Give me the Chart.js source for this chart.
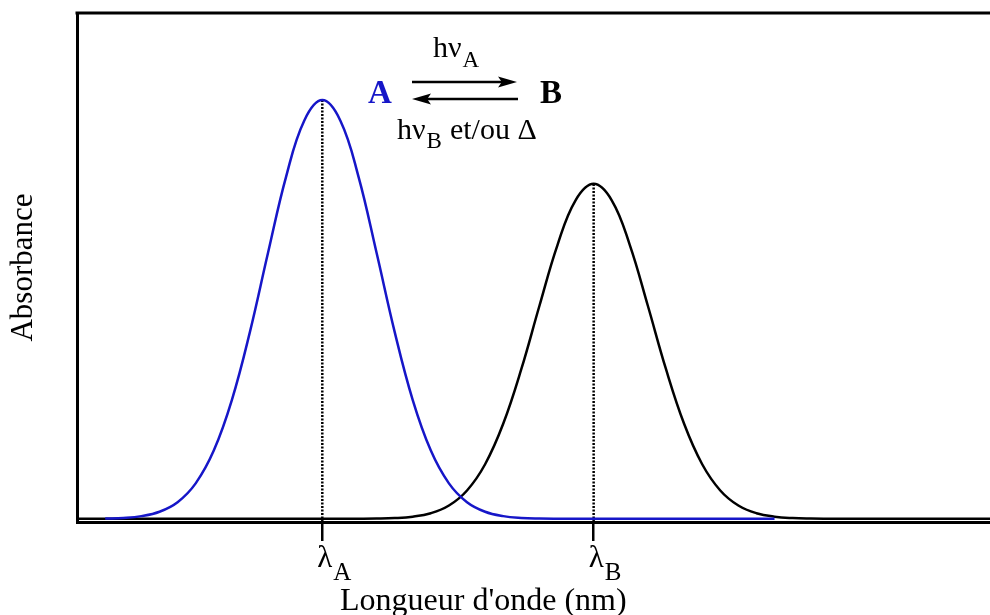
<!DOCTYPE html>
<html>
<head>
<meta charset="utf-8">
<script src="https://cdn.jsdelivr.net/npm/chart.js@4"></script>
<style>
  html, body { margin: 0; padding: 0; background: #fff; overflow: hidden; }
  #wrap { position: relative; width: 990px; height: 615px; }
</style>
</head>
<body>
<div id="wrap"><canvas id="spectre"></canvas></div>
<script>
// Spectres d'absorption A / B (photochromisme)
const wavelengths = [290, 300, 310, 320, 330, 340, 350, 360, 370, 380, 390, 400, 410, 420, 430,
  440, 450, 460, 470, 480, 490, 500, 510, 520, 530, 540, 550, 560, 570, 580,
  590, 600, 610, 620, 630, 640, 650, 660, 670, 680, 690, 700, 710, 720, 730, 740, 750, 760, 770, 780, 790, 800];

const absorbanceA = [null, null, 0.0007, 0.0022, 0.0065, 0.0169, 0.0397, 0.0847, 0.1630, 0.2837, 0.4466, 0.6354, 0.8174, 0.9509, 1.0,
  0.9509, 0.8174, 0.6354, 0.4466, 0.2837, 0.1630, 0.0847, 0.0397, 0.0169, 0.0065, 0.0022, 0.0007, 0.0002, 0.0001, 0,
  0, 0, 0, 0, 0, 0, 0, 0, 0, 0, null, null, null, null, null, null, null, null, null, null, null, null];

const absorbanceB = [0, 0, 0, 0, 0, 0, 0, 0, 0, 0, 0, 0, 0, 0, 0,
  0, 0.0002, 0.0006, 0.0018, 0.0052, 0.0135, 0.0318, 0.0678, 0.1304, 0.2270, 0.3573, 0.5083, 0.6539, 0.7607, 0.80,
  0.7607, 0.6539, 0.5083, 0.3573, 0.2270, 0.1304, 0.0678, 0.0318, 0.0135, 0.0052, 0.0018, 0.0006, 0.0002, 0, 0, 0, 0, 0, 0, 0, 0, 0];

const peakWavelengths = [430, 580];
const peakAbsorbance = [1.0, 0.80];
const peakNames = ['A', 'B'];

const X_MIN = 294.4, X_MAX = 799.1;
const Y_MIN = -0.0075, Y_MAX = 1.208;

const SERIF = '"Liberation Serif", "Times New Roman", serif';
const BLUE = '#1616c8';

const toPoints = (ys) => wavelengths.map((w, i) => ({ x: w, y: ys[i] }));

// texte avec indice (hν_A, λ_B ...)
const drawSub = (ctx, main, sub, x, y, size, subSize, subDrop) => {
  ctx.font = `${size}px ${SERIF}`;
  ctx.fillText(main, x, y);
  const w = ctx.measureText(main).width;
  ctx.font = `${subSize}px ${SERIF}`;
  ctx.fillText(sub, x + w + 1, y + subDrop);
  return x + w + 1 + ctx.measureText(sub).width;
};

const arrow = (ctx, x1, x2, y) => {
  const dir = Math.sign(x2 - x1);
  const head = 19;
  ctx.beginPath();
  ctx.moveTo(x1, y);
  ctx.lineTo(x2 - dir * head * 0.6, y);
  ctx.stroke();
  ctx.beginPath();
  ctx.moveTo(x2, y);
  ctx.lineTo(x2 - dir * head, y - 5.5);
  ctx.lineTo(x2 - dir * head * 0.8, y);
  ctx.lineTo(x2 - dir * head, y + 5.5);
  ctx.closePath();
  ctx.fill();
};

const annotations = {
  id: 'annotations',
  afterDraw(chart) {
    const { ctx, chartArea, scales: { x } } = chart;
    ctx.save();

    // cadre du haut
    ctx.strokeStyle = '#000';
    ctx.lineWidth = 3;
    ctx.beginPath();
    ctx.moveTo(chartArea.left - 1.5, chartArea.top);
    ctx.lineTo(chartArea.right, chartArea.top);
    ctx.stroke();

    ctx.fillStyle = '#000';
    ctx.textBaseline = 'alphabetic';
    ctx.textAlign = 'left';

    // λA, λB sous les graduations
    peakWavelengths.forEach((w, i) => {
      const px = x.getPixelForValue(w);
      drawSub(ctx, 'λ', peakNames[i], px - 5, 567, 31, 25, 13);
    });

    // titre axe x
    ctx.font = `32px ${SERIF}`;
    ctx.fillText("Longueur d'onde (nm)", 340, 610);

    // équilibre A ⇄ B
    drawSub(ctx, 'hν', 'A', 433, 57, 30, 23, 10);

    ctx.font = `bold 33px ${SERIF}`;
    ctx.fillStyle = BLUE;
    ctx.fillText('A', 368, 103);
    ctx.fillStyle = '#000';
    ctx.fillText('B', 540, 103);

    ctx.lineWidth = 2.5;
    arrow(ctx, 412, 517, 82);
    arrow(ctx, 518, 412, 99);

    const end = drawSub(ctx, 'hν', 'B', 397, 139, 30, 23, 9);
    ctx.font = `30px ${SERIF}`;
    ctx.fillText('et/ou Δ', end + 8, 139);

    ctx.restore();
  }
};

const dotted = (i) => ({
  data: [{ x: peakWavelengths[i], y: Y_MIN }, { x: peakWavelengths[i], y: peakAbsorbance[i] }],
  borderColor: '#000',
  borderWidth: 2.5,
  borderDash: [2, 1.5],
  pointRadius: 0,
  tension: 0,
  order: 3,
});

new Chart(document.getElementById('spectre'), {
  type: 'line',
  data: {
    datasets: [
      {
        label: 'A',
        data: toPoints(absorbanceA),
        borderColor: BLUE,
        borderWidth: 2.5,
        pointRadius: 0,
        tension: 0.4,
        spanGaps: false,
        order: 1,
      },
      {
        label: 'B',
        data: toPoints(absorbanceB),
        borderColor: '#000',
        borderWidth: 2.5,
        pointRadius: 0,
        tension: 0.4,
        order: 2,
      },
      dotted(0),
      dotted(1),
    ],
  },
  options: {
    responsive: true,
    maintainAspectRatio: false,
    animation: false,
    events: [],
    layout: { padding: { top: 13, right: 0, bottom: 0, left: 0 } },
    plugins: { legend: { display: false }, tooltip: { enabled: false } },
    scales: {
      x: {
        type: 'linear',
        position: 'bottom',
        min: X_MIN,
        max: X_MAX,
        afterFit: (s) => { s.height = 93; },
        afterBuildTicks: (s) => { s.ticks = peakWavelengths.map(v => ({ value: v })); },
        ticks: { display: false },
        grid: { display: true, drawOnChartArea: false, drawTicks: true, tickLength: 19, lineWidth: 2.5, color: '#000' },
        border: { display: true, color: '#000', width: 3 },
      },
      y: {
        type: 'linear',
        min: Y_MIN,
        max: Y_MAX,
        afterFit: (s) => { s.width = 77; },
        ticks: { display: false },
        grid: { display: false },
        border: { display: true, color: '#000', width: 3 },
        title: {
          display: true,
          text: 'Absorbance',
          color: '#000',
          font: { family: SERIF, size: 31, lineHeight: 1 },
          padding: { top: 8, bottom: 0 },
        },
      },
    },
  },
  plugins: [annotations],
});
</script>
</body>
</html>
